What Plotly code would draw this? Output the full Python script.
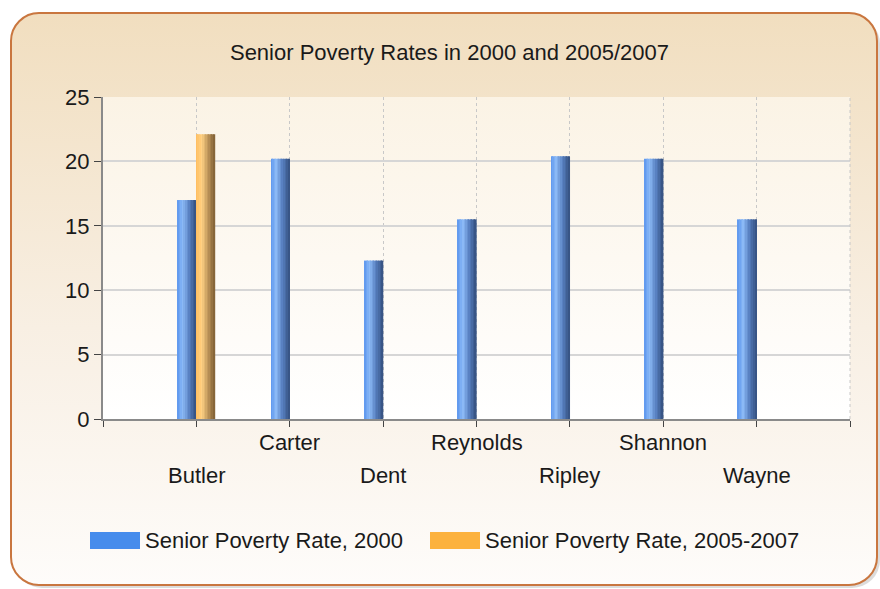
import base64
import plotly.graph_objects as go

# Data
categories = ["Butler", "Carter", "Dent", "Reynolds", "Ripley", "Shannon", "Wayne"]
rate_2000 = [17.0, 20.2, 12.3, 15.5, 20.4, 20.2, 15.5]
rate_2005_2007 = [22.1, None, None, None, None, None, None]
series_names = ["Senior Poverty Rate, 2000", "Senior Poverty Rate, 2005-2007"]
y_ticks = [0, 5, 10, 15, 20, 25]
title_text = "Senior Poverty Rates in 2000 and 2005/2007"

# Layout in pixels
W, H = 880, 589
L, R, T, B = 103, 850, 97, 419
FONT = "Liberation Sans"
FS = 22


def px_x(x):
    return (x - L) / (R - L)


def px_y(y):
    return (B - y) / (B - T)


def mix(c1, c2, t):
    return "rgb(%d,%d,%d)" % tuple(round(a + (b - a) * t) for a, b in zip(c1, c2))


def ramp(stops, t):
    # stops: list of (pos, rgb)
    for (p0, c0), (p1, c1) in zip(stops, stops[1:]):
        if p0 <= t <= p1:
            return mix(c0, c1, (t - p0) / (p1 - p0))
    return mix(stops[-1][1], stops[-1][1], 0)


blue_stops = [(0, (92, 150, 238)), (0.3, (140, 186, 246)), (0.65, (85, 125, 190)), (1, (52, 80, 126))]
orange_stops = [(0, (255, 188, 92)), (0.3, (255, 210, 132)), (0.65, (190, 150, 90)), (1, (128, 96, 52))]
legend_colors = ["#468cec", "#fcb23e"]

positions = list(range(1, len(categories) + 1))
bar_w = 0.2
n_slices = 12

fig = go.Figure()

for values, base, stops in [(rate_2000, -bar_w, blue_stops),
                            (rate_2005_2007, 0.0, orange_stops)]:
    for i in range(n_slices):
        fig.add_trace(go.Bar(
            x=positions, y=values,
            offset=base + i * bar_w / n_slices,
            width=bar_w / n_slices * 1.1,
            marker=dict(color=ramp(stops, (i + 0.5) / n_slices), line=dict(width=0)),
            showlegend=False, hoverinfo="skip",
        ))

# background: rounded panel with vertical gradient + plot area gradient
svg = f"""<svg xmlns="http://www.w3.org/2000/svg" width="{W}" height="{H}" viewBox="0 0 {W} {H}" preserveAspectRatio="none">
<defs>
<linearGradient id="g1" x1="0" y1="0" x2="0" y2="1">
<stop offset="0" stop-color="#f1debf"/><stop offset="0.55" stop-color="#f8efe3"/><stop offset="1" stop-color="#fefcfa"/>
</linearGradient>
<linearGradient id="g2" x1="0" y1="0" x2="0" y2="1">
<stop offset="0" stop-color="#fbf3e5"/><stop offset="1" stop-color="#ffffff"/>
</linearGradient>
</defs>
<rect x="14" y="16" width="866" height="572" rx="28" ry="28" fill="#9a9a9a" fill-opacity="0.35"/>
<rect x="11" y="13" width="866" height="572" rx="28" ry="28" fill="url(#g1)" stroke="#c9763f" stroke-width="2"/>
<rect x="{L}" y="{T}" width="{R - L}" height="{B - T}" fill="url(#g2)"/>
</svg>"""
src = "data:image/svg+xml;base64," + base64.b64encode(svg.encode()).decode()

fig.add_layout_image(
    source=src, xref="paper", yref="paper",
    x=px_x(0), y=px_y(0), sizex=W / (R - L), sizey=H / (B - T),
    xanchor="left", yanchor="top", sizing="stretch", layer="below",
)

# category labels, staggered in two rows
for i, (pos, name) in enumerate(zip(positions, categories)):
    fig.add_annotation(
        x=pos, xref="x", y=0, yref="paper", text=name, showarrow=False,
        yanchor="middle", yshift=-56 if i % 2 == 0 else -23,
        font=dict(family=FONT, size=FS, color="#1a1a1a"),
    )

# legend drawn by hand to get the wide swatches
legend_x = [90, 430]
for name, color, lx in zip(series_names, legend_colors, legend_x):
    fig.add_shape(type="rect", xref="paper", yref="paper",
                  x0=px_x(lx), x1=px_x(lx + 50), y0=px_y(532), y1=px_y(549),
                  fillcolor=color, line=dict(width=0))
    fig.add_annotation(x=px_x(lx + 53), y=px_y(540), xref="paper", yref="paper",
                       text=name, showarrow=False, xanchor="left", yanchor="middle",
                       font=dict(family=FONT, size=FS, color="#1a1a1a"))

# right edge of plot area (dotted)
fig.add_shape(type="line", xref="paper", yref="paper", x0=1, x1=1, y0=0, y1=1,
              line=dict(color="#c8c8c8", width=1, dash="dot"))

fig.update_layout(
    width=W, height=H,
    margin=dict(l=L, r=W - R, t=T, b=H - B),
    paper_bgcolor="white", plot_bgcolor="rgba(0,0,0,0)",
    barmode="overlay", showlegend=False,
    font=dict(family=FONT, size=FS, color="#1a1a1a"),
    title=dict(text=title_text, x=449.5 / W, xanchor="center",
               y=1 - 52 / H, yanchor="middle",
               font=dict(family=FONT, size=FS, color="#1a1a1a")),
    xaxis=dict(range=[0, len(categories) + 1], tickvals=list(range(0, len(categories) + 2)),
               showticklabels=False, ticks="outside", ticklen=6, tickcolor="#444",
               showline=True, linecolor="#8a8a8a", linewidth=2,
               showgrid=True, gridcolor="#c8c8c8", griddash="dot", gridwidth=1,
               zeroline=False, fixedrange=True),
    yaxis=dict(range=[0, 25], tickvals=y_ticks, ticks="outside", ticklen=7, tickcolor="#444",
               showline=True, linecolor="#8a8a8a", linewidth=2,
               showgrid=True, gridcolor="#d6d6d6", gridwidth=2,
               zeroline=False, fixedrange=True,
               tickfont=dict(family=FONT, size=FS, color="#1a1a1a")),
)

fig.write_html("out.html", config={"displayModeBar": False},
               post_script="document.body.style.margin='0px';")
